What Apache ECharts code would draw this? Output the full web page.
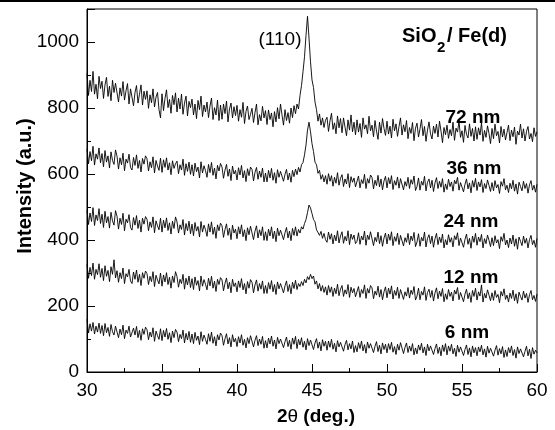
<!DOCTYPE html>
<html>
<head>
<meta charset="utf-8">
<script src="https://cdn.jsdelivr.net/npm/echarts@6/dist/echarts.min.js"></script>
<style>
html,body{margin:0;padding:0;background:#fff;}
#chart{width:555px;height:430px;}
</style>
</head>
<body>
<div id="chart"></div>
<script>
// Scan grid: 2theta from 30 to 60 deg, step 0.1 deg
const scanStart = 30, scanStep = 0.1, scanCount = 301;

const seriesNames = ['72 nm', '36 nm', '24 nm', '12 nm', '6 nm'];

const s72 = [
905,838,884,850,911,842,872,828,896,859,
881,829,870,893,835,866,822,884,847,875,
873,818,861,836,880,824,852,874,812,858,
859,807,847,868,815,842,870,809,851,826,
852,799,840,816,858,803,833,847,795,770,
843,792,829,855,801,826,784,838,810,846,
788,830,797,842,781,815,836,776,820,801,
827,779,812,768,823,795,836,774,809,788,
818,771,806,830,765,801,779,824,762,809,
766,812,783,821,758,797,815,770,804,777,
808,760,795,772,817,753,790,806,765,781,
799,756,786,812,749,780,761,805,770,792,
750,794,765,785,743,789,758,801,767,812,
779,748,795,762,786,754,800,771,807,783,
812,797,838,868,910,955,1020,1078,1012,940,
885,862,818,795,760,782,748,770,741,763,
772,729,761,784,735,755,722,776,740,768,
725,770,742,716,764,733,779,728,757,719,
764,727,753,711,770,736,749,722,775,731,
748,713,762,730,705,757,724,768,738,717,
760,721,745,709,766,731,752,714,744,770,
718,749,728,762,707,741,723,756,701,739,
754,712,737,765,716,744,699,733,758,722,
706,745,723,751,712,760,730,695,741,719,
748,708,735,716,757,702,739,727,760,711,
731,696,747,720,709,752,714,738,700,743,
705,740,718,755,699,732,711,746,723,692,
738,707,751,716,729,694,744,712,736,703,
726,748,701,733,713,742,690,730,718,751,
709,737,700,729,744,706,723,698,740,714,
728];

const s36 = [
676,631,668,640,684,627,661,645,679,634,
662,622,671,636,655,618,667,641,629,673,
654,615,649,628,663,610,645,633,660,620,
612,650,626,658,617,641,606,647,630,655,
646,609,637,619,652,603,641,624,611,648,
605,643,620,649,612,634,598,640,617,631,
639,601,628,612,645,596,631,608,636,599,
628,594,633,607,621,588,637,603,625,610,
590,629,604,635,596,618,585,626,609,632,
621,587,612,629,593,615,580,624,600,611,
582,619,597,626,588,610,577,616,595,621,
614,579,605,620,584,609,590,618,576,603,
576,611,588,617,581,604,572,613,590,608,
607,578,599,614,582,603,575,611,592,615,
598,620,606,628,635,658,688,733,757,728,
692,668,636,628,602,611,584,598,576,595,
569,601,578,595,563,590,572,604,566,587,
598,562,585,570,601,559,592,575,588,561,
567,594,558,583,571,599,556,586,572,597,
590,555,581,565,596,561,585,552,579,593,
558,589,570,595,553,580,566,591,557,586,
584,552,577,563,590,556,583,569,594,550,
562,588,551,578,566,593,549,575,585,558,
581,547,573,589,556,578,560,586,545,570,
553,584,562,576,548,581,570,590,551,574,
578,546,569,585,555,573,543,580,560,587,
550,576,561,583,544,571,556,582,565,547,
574,549,580,558,568,541,577,563,586,552,
566,544,572,555,581,548,570,539,575,562,
549,578,556,571,542,567,580,551,566,545,
569];

const s24 = [
491,447,482,456,498,444,476,459,495,450,
478,438,487,452,471,436,484,458,445,489,
472,433,466,447,481,428,463,452,477,438,
430,468,445,474,435,460,424,466,448,471,
463,428,455,438,470,422,458,443,431,466,
424,460,437,467,429,452,418,457,435,470,
455,421,446,432,462,415,450,428,457,419,
448,413,453,427,441,409,456,424,445,431,
411,449,424,455,417,439,405,446,428,451,
443,408,432,449,414,436,401,445,421,433,
404,440,418,446,410,431,398,437,416,442,
436,401,427,443,406,431,413,440,399,425,
398,433,412,440,404,427,395,436,413,430,
431,401,422,438,406,427,398,435,414,440,
412,432,421,440,433,450,462,483,506,497,
480,462,455,431,437,414,426,405,420,401,
393,424,402,419,388,415,397,428,391,412,
425,390,411,397,428,386,418,402,415,389,
396,422,387,412,400,427,384,415,401,425,
419,383,408,395,424,389,413,381,406,421,
388,418,399,425,383,410,396,421,386,414,
414,382,407,393,420,386,412,398,423,380,
394,419,381,408,397,424,379,405,416,389,
412,378,404,420,386,409,392,418,376,401,
385,416,393,407,379,413,401,422,383,406,
411,378,402,418,387,405,375,412,393,420,
384,409,395,417,376,404,389,415,399,380,
407,383,413,391,401,374,410,396,420,385,
400,377,406,388,415,381,404,372,409,396,
383,412,390,405,376,401,414,386,399,378,
405];

const s12 = [
326,284,317,292,330,281,311,295,328,287,
314,277,322,290,308,274,319,296,340,285,
307,272,301,283,315,268,298,288,311,276,
268,303,281,309,272,296,262,301,284,306,
298,265,290,274,304,259,293,279,267,300,
260,294,273,301,265,287,254,291,271,304,
289,257,281,268,296,251,284,264,291,256,
283,250,288,263,277,246,291,260,280,266,
249,284,261,290,254,275,244,281,265,286,
279,246,269,285,252,272,240,281,259,270,
243,276,256,283,249,268,237,274,254,280,
272,240,264,279,245,268,251,276,238,262,
238,271,251,277,243,265,235,273,252,268,
270,240,261,276,244,265,237,272,253,278,
250,268,259,274,262,281,270,289,280,296,
283,291,266,276,252,268,245,262,241,258,
233,262,241,258,229,254,237,266,231,251,
262,229,249,236,265,226,257,240,253,228,
234,259,226,250,238,264,223,253,239,262,
255,222,245,233,260,227,250,219,243,258,
225,254,236,261,221,247,232,257,223,250,
250,220,243,230,256,224,248,235,259,218,
230,254,219,244,233,258,217,241,251,226,
247,215,240,255,222,245,229,253,213,237,
220,250,229,242,215,248,236,256,219,241,
245,213,236,251,222,240,211,247,229,254,
218,243,230,264,212,238,224,249,233,216,
240,217,247,226,235,210,244,230,252,220,
233,212,239,223,248,216,237,208,242,229,
218,245,224,238,211,234,247,219,232,214,
236];

const s6 = [
160,118,146,124,150,115,139,121,148,117,
141,110,147,119,135,108,144,122,112,139,
136,104,130,113,142,101,127,117,139,106,
101,133,112,138,104,126,96,131,114,136,
128,98,121,106,134,93,124,110,99,131,
95,126,106,132,99,119,89,124,104,129,
121,92,114,101,127,88,117,97,123,90,
115,86,120,96,109,83,122,93,112,99,
84,116,93,121,87,107,79,113,97,118,
110,81,101,116,85,104,76,113,91,102,
77,107,88,113,81,99,73,104,86,110,
104,76,96,110,80,100,84,108,72,95,
73,103,85,109,78,97,70,105,86,100,
101,74,92,106,77,96,69,103,84,108,
71,99,82,104,75,93,67,101,80,97,
96,68,88,101,72,91,64,98,78,93,
66,94,75,99,69,87,61,95,76,90,
91,63,83,96,67,86,70,94,59,80,
61,89,71,94,64,83,57,91,72,86,
87,59,78,92,62,81,55,88,68,84,
58,86,68,90,60,77,53,84,66,89,
83,56,75,88,59,79,63,86,52,73,
55,82,66,87,58,76,50,84,64,79,
80,53,71,85,56,75,49,82,62,86,
52,79,63,84,55,72,47,81,60,76,
77,50,68,82,53,73,46,79,58,74,
49,76,61,81,52,70,45,78,57,72,
75,48,66,80,51,71,55,77,44,67,
47,74,58,79,50,68,42,76,56,70,
72,46,63,78,49,69,41,74,54,66,
58];

const xTicks = [30, 35, 40, 45, 50, 55, 60];
const yTicks = [0, 200, 400, 600, 800, 1000];

// build x grid
const twoTheta = [];
for (let i = 0; i < scanCount; i++) twoTheta.push(+(scanStart + i * scanStep).toFixed(1));

function pairs(vals) {
  return vals.map((v, i) => [twoTheta[i], v]);
}

const allSeries = [s72, s36, s24, s12, s6];

const FONT = 'Liberation Sans, Arial, sans-serif';

const chart = echarts.init(document.getElementById('chart'), null, {renderer: 'canvas'});

const labelPos = [
  {t: '72 nm', x: 473, y: 118},
  {t: '36 nm', x: 474, y: 169},
  {t: '24 nm', x: 471, y: 222},
  {t: '12 nm', x: 471, y: 278},
  {t: '6 nm', x: 467, y: 333}
];

const graphics = [
  {type: 'rect', shape: {x: 0, y: 0, width: 555, height: 2}, style: {fill: '#000'}, silent: true},
  {type: 'text', x: 25, y: 186, rotation: Math.PI / 2,
    style: {text: 'Intensity (a.u.)', fontFamily: FONT, fontSize: 20, fontWeight: 'bold', fill: '#000', align: 'center', verticalAlign: 'middle'}},
  {type: 'text', x: 316, y: 417,
    style: {text: '{b|2}{t|θ}{b| (deg.)}', align: 'center', verticalAlign: 'middle',
      rich: {b: {fontFamily: FONT, fontSize: 19, fontWeight: 'bold', fill: '#000'},
             t: {fontFamily: FONT, fontSize: 19, fontWeight: 'normal', fill: '#000'}}}},
  {type: 'text', x: 280, y: 40,
    style: {text: '(110)', fontFamily: FONT, fontSize: 19, fill: '#000', align: 'center', verticalAlign: 'middle'}},
  {type: 'text', x: 402, y: 36,
    style: {text: 'SiO', fontFamily: FONT, fontSize: 20, fontWeight: 'bold', fill: '#000', align: 'left', verticalAlign: 'middle'}},
  {type: 'text', x: 437, y: 48,
    style: {text: '2', fontFamily: FONT, fontSize: 15, fontWeight: 'bold', fill: '#000', align: 'left', verticalAlign: 'middle'}},
  {type: 'text', x: 447, y: 36,
    style: {text: '/ Fe(d)', fontFamily: FONT, fontSize: 20, fontWeight: 'bold', fill: '#000', align: 'left', verticalAlign: 'middle'}}
];
labelPos.forEach(l => graphics.push({type: 'text', x: l.x, y: l.y,
  style: {text: l.t, fontFamily: FONT, fontSize: 19, fontWeight: 'bold', fill: '#000', align: 'center', verticalAlign: 'middle'}}));

const option = {
  animation: false,
  backgroundColor: '#fff',
  grid: {left: 87, right: 18, top: 9, bottom: 58, show: true, borderColor: '#000', borderWidth: 1, backgroundColor: 'transparent'},
  xAxis: {
    type: 'value', min: xTicks[0], max: xTicks[xTicks.length - 1], interval: 5,
    axisLine: {lineStyle: {color: '#000', width: 1}},
    axisTick: {inside: true, length: 8, lineStyle: {color: '#000', width: 1}},
    minorTick: {show: true, splitNumber: 2, length: 4, lineStyle: {color: '#000', width: 1}},
    splitLine: {show: false},
    axisLabel: {fontFamily: FONT, fontSize: 19, color: '#000', margin: 9}
  },
  yAxis: [
    {
      type: 'value', min: 0, max: 1100, interval: 200, position: 'left',
      axisLine: {show: true, lineStyle: {color: '#000', width: 1}},
      axisTick: {show: true, inside: true, length: 8, lineStyle: {color: '#000', width: 1}},
      splitLine: {show: false},
      axisLabel: {fontFamily: FONT, fontSize: 19, color: '#000', margin: 8,
        formatter: v => (yTicks.indexOf(v) >= 0 ? String(v) : '')}
    },
    {
      type: 'value', min: 0, max: 1100, interval: 100, position: 'left', offset: 0,
      axisLine: {show: false},
      axisTick: {show: true, inside: true, length: 4, lineStyle: {color: '#000', width: 1}},
      splitLine: {show: false},
      axisLabel: {show: false}
    }
  ],
  series: allSeries.map((vals, k) => ({
    name: seriesNames[k], type: 'line', yAxisIndex: 0, data: pairs(vals),
    showSymbol: false, symbol: 'none', silent: true,
    lineStyle: {color: '#000', width: 0.9}
  })),
  graphic: graphics
};
chart.setOption(option);
</script>
</body>
</html>
